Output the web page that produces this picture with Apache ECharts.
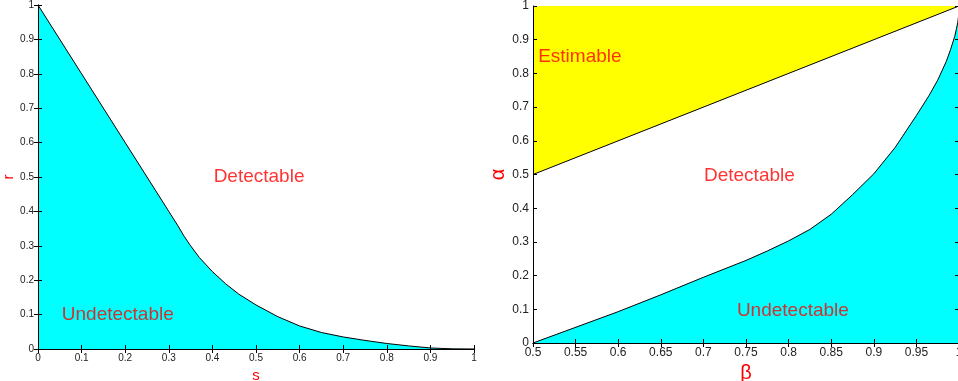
<!DOCTYPE html>
<html>
<head>
<meta charset="utf-8">
<script src="https://cdn.jsdelivr.net/npm/echarts@6/dist/echarts.min.js"></script>
<style>
  html, body { margin: 0; padding: 0; background: #fff; }
  #main { width: 958px; height: 381px; }
</style>
</head>
<body>
<div id="main"></div>
<script>
// left panel: boundary r(s)
const sValues = [0, 0.1, 0.2, 0.3, 0.32, 0.335, 0.35, 0.37, 0.4, 0.43, 0.46, 0.5, 0.55, 0.6, 0.65, 0.7, 0.75, 0.8, 0.85, 0.9, 0.95, 1];
const rValues = [1, 0.8, 0.6, 0.4, 0.36, 0.328, 0.3, 0.266, 0.225, 0.19, 0.16, 0.128, 0.094, 0.067, 0.048, 0.035, 0.025, 0.016, 0.009, 0.003, 0.0005, 0];

// right panel: estimable boundary (alpha = beta) and detectable boundary
const betaUpper = [0.5, 1];
const alphaUpper = [0.5, 1];
const betaLower = [0.5, 0.6, 0.65, 0.7, 0.75, 0.775, 0.8, 0.825, 0.85, 0.875, 0.9, 0.925, 0.95, 0.965, 0.975, 0.985, 0.99, 0.995, 0.9985, 1];
const alphaLower = [0, 0.093, 0.143, 0.195, 0.245, 0.273, 0.303, 0.337, 0.382, 0.44, 0.502, 0.58, 0.675, 0.735, 0.78, 0.835, 0.87, 0.91, 0.95, 0.98];

const leftLabels = [['Detectable', 0.507, 0.5], ['Undetectable', 0.183, 0.099]];
const rightLabels = [['Estimable', 0.555, 0.848], ['Detectable', 0.754, 0.495], ['Undetectable', 0.805, 0.097]];

const zip = (xs, ys) => xs.map((x, i) => [x, ys[i]]);

const chart = echarts.init(document.getElementById('main'), null, { renderer: 'canvas' });

const axisLine = { show: true, lineStyle: { color: '#000', width: 1 } };
const tick = { show: true, inside: true, length: 4, lineStyle: { color: '#000' } };

function mainAxis(gridIndex, min, max, interval, fontSize, name, nameSize, nameGap) {
  return {
    type: 'value', gridIndex, min, max, interval, z: 10,
    axisLine: axisLine, axisTick: tick, splitLine: { show: false },
    axisLabel: { color: '#222', fontSize, fontFamily: 'Liberation Sans', margin: 4, showMinLabel: true, showMaxLabel: true },
    name, nameLocation: 'middle', nameGap,
    nameTextStyle: { color: '#f00', fontSize: nameSize, fontFamily: 'Liberation Sans' }
  };
}
function boxAxis(gridIndex, min, max, interval, position) {
  return {
    type: 'value', gridIndex, min, max, interval, position, z: 10,
    axisLine: axisLine, axisTick: tick, splitLine: { show: false },
    axisLabel: { show: false }
  };
}

const labelSeries = (xi, yi, items) => ({
  type: 'scatter', xAxisIndex: xi, yAxisIndex: yi, symbolSize: 0, z: 20,
  data: items.map(d => ({ value: [d[1], d[2]], name: d[0] })),
  label: { show: true, position: 'inside', formatter: p => p.name, color: '#f00', fontSize: 19, fontFamily: 'Liberation Sans' }
});

const option = {
  backgroundColor: '#fff',
  animation: false,
  grid: [
    { left: 38, top: 5, width: 436, height: 344, containLabel: false, outerBoundsMode: 'none' },
    { left: 533, top: 6, width: 426, height: 337, containLabel: false, outerBoundsMode: 'none' }
  ],
  xAxis: [
    mainAxis(0, 0, 1, 0.1, 10, 's', 15, 16),
    boxAxis(0, 0, 1, 0.1, 'top'),
    mainAxis(1, 0.5, 1, 0.05, 12, 'β', 20, 19),
    boxAxis(1, 0.5, 1, 0.05, 'top')
  ],
  yAxis: [
    mainAxis(0, 0, 1, 0.1, 10, 'r', 15, 21),
    boxAxis(0, 0, 1, 0.1, 'right'),
    mainAxis(1, 0, 1, 0.1, 12, 'α', 20, 20),
    boxAxis(1, 0, 1, 0.1, 'right')
  ],
  series: [
    {
      type: 'line', xAxisIndex: 0, yAxisIndex: 0, showSymbol: false, smooth: false,
      data: zip(sValues, rValues),
      lineStyle: { color: '#000', width: 1 },
      areaStyle: { color: '#00ffff', opacity: 1 }
    },
    labelSeries(0, 0, leftLabels),
    {
      type: 'line', xAxisIndex: 2, yAxisIndex: 2, showSymbol: false,
      data: zip(betaUpper, betaUpper.map(() => 1)),
      lineStyle: { width: 0 },
      areaStyle: { color: '#ffff00', opacity: 1 }
    },
    {
      type: 'line', xAxisIndex: 2, yAxisIndex: 2, showSymbol: false,
      data: zip(betaUpper, alphaUpper),
      lineStyle: { color: '#000', width: 1 },
      areaStyle: { color: '#fff', opacity: 1 }
    },
    {
      type: 'line', xAxisIndex: 2, yAxisIndex: 2, showSymbol: false,
      data: zip(betaLower, alphaLower),
      lineStyle: { color: '#000', width: 1 },
      areaStyle: { color: '#00ffff', opacity: 1 }
    },
    labelSeries(2, 2, rightLabels)
  ]
};

chart.setOption(option);
</script>
</body>
</html>
